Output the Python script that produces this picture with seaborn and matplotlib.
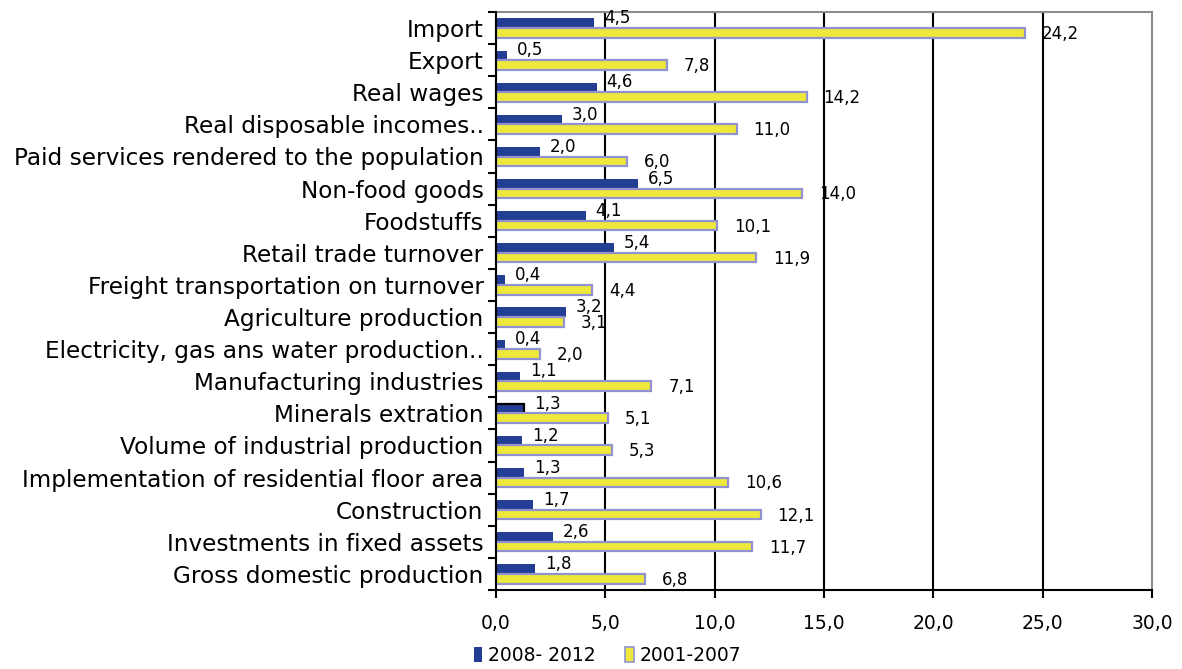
import matplotlib
matplotlib.use("Agg")
import matplotlib.pyplot as plt
import seaborn as sns
import pandas as pd
from matplotlib.patches import Patch

categories = [
    "Import",
    "Export",
    "Real wages",
    "Real disposable incomes..",
    "Paid services rendered to the population",
    "Non-food goods",
    "Foodstuffs",
    "Retail trade turnover",
    "Freight transportation on turnover",
    "Agriculture production",
    "Electricity, gas ans water production..",
    "Manufacturing industries",
    "Minerals extration",
    "Volume of industrial production",
    "Implementation of residential floor area",
    "Construction",
    "Investments in fixed assets",
    "Gross domestic production",
]
period_recent = "2008- 2012"
period_early = "2001-2007"
values_recent = [4.5, 0.5, 4.6, 3.0, 2.0, 6.5, 4.1, 5.4, 0.4, 3.2, 0.4, 1.1, 1.3, 1.2, 1.3, 1.7, 2.6, 1.8]
values_early = [24.2, 7.8, 14.2, 11.0, 6.0, 14.0, 10.1, 11.9, 4.4, 3.1, 2.0, 7.1, 5.1, 5.3, 10.6, 12.1, 11.7, 6.8]
x_ticks = [0, 5, 10, 15, 20, 25, 30]

BLUE = "#243d95"
YELLOW = "#ede83a"
LAVENDER = "#9192cf"

df = pd.concat([
    pd.DataFrame({"category": categories, "value": values_recent, "period": period_recent}),
    pd.DataFrame({"category": categories, "value": values_early, "period": period_early}),
])

sns.set_theme(style="white")
plt.rcParams["font.family"] = ["DejaVu Sans"]
plt.rcParams["text.color"] = "black"
plt.rcParams["xtick.color"] = "black"
plt.rcParams["ytick.color"] = "black"

fig = plt.figure(figsize=(11.82, 6.69), dpi=100)
ax = fig.add_axes([496 / 1182, 1 - 590 / 669, 656 / 1182, 578 / 669])

sns.barplot(
    data=df, x="value", y="category", hue="period",
    order=categories, hue_order=[period_recent, period_early],
    palette=[BLUE, YELLOW], orient="h", width=0.6, gap=0,
    dodge=True, legend=False, ax=ax, saturation=1,
)

recent_bars, early_bars = ax.containers[0], ax.containers[1]
for p in recent_bars:
    p.set_edgecolor("none")
for p in early_bars:
    p.set_edgecolor(LAVENDER)
    p.set_linewidth(1.6)
# highlighted point on the minerals row
hl = recent_bars[categories.index("Minerals extration")]
hl.set_edgecolor("black")
hl.set_linewidth(1.6)

def fmt(v):
    return f"{v:.1f}".replace(".", ",")

for p, v in zip(recent_bars, values_recent):
    yc = p.get_y() + p.get_height() / 2
    ax.annotate(fmt(v), xy=(p.get_width(), yc), xytext=(10, 5),
                textcoords="offset pixels", ha="left", va="center",
                fontsize=12, color="black")
for p, v in zip(early_bars, values_early):
    yc = p.get_y() + p.get_height() / 2
    ax.annotate(fmt(v), xy=(p.get_width(), yc), xytext=(17, -1),
                textcoords="offset pixels", ha="left", va="center",
                fontsize=12, color="black")

ax.set_xlim(0, 30)
ax.set_ylim(len(categories) - 0.5, -0.5)
ax.set_xticks(x_ticks)
ax.set_xticklabels([fmt(t) for t in x_ticks], fontsize=13.5)
ax.set_xlabel("")
ax.set_ylabel("")

for t in x_ticks[1:-1]:
    ax.axvline(t, color="black", lw=1.5, zorder=0)

# category labels at band centres, tick marks at band boundaries
ax.set_yticks(range(len(categories)))
ax.set_yticklabels(categories, fontsize=16.7)
ax.set_yticks([i - 0.5 for i in range(len(categories) + 1)], minor=True)
ax.tick_params(axis="y", which="major", length=0, pad=9)
ax.tick_params(axis="y", which="minor", length=6, width=1.5, color="black", direction="out", left=True)
ax.tick_params(axis="x", which="major", length=6, width=1.5, color="black", direction="out", bottom=True, pad=11)

for side in ("left", "bottom"):
    ax.spines[side].set_color("black")
    ax.spines[side].set_linewidth(1.5)
for side in ("top", "right"):
    ax.spines[side].set_color("#8c8c8c")
    ax.spines[side].set_linewidth(1.5)
ax.spines["left"].set_zorder(5)

handles = [
    Patch(facecolor=BLUE, edgecolor="none", label=period_recent),
    Patch(facecolor=YELLOW, edgecolor=LAVENDER, linewidth=1.2, label=period_early),
]
fig.legend(handles=handles, loc="lower left", bbox_to_anchor=(466 / 1182, -0.005),
           ncol=2, frameon=False, fontsize=13.5, handlelength=0.45, handleheight=0.9,
           handletextpad=0.3, columnspacing=1.6, borderaxespad=0)

fig.savefig("out.png", dpi=100, facecolor="white")
